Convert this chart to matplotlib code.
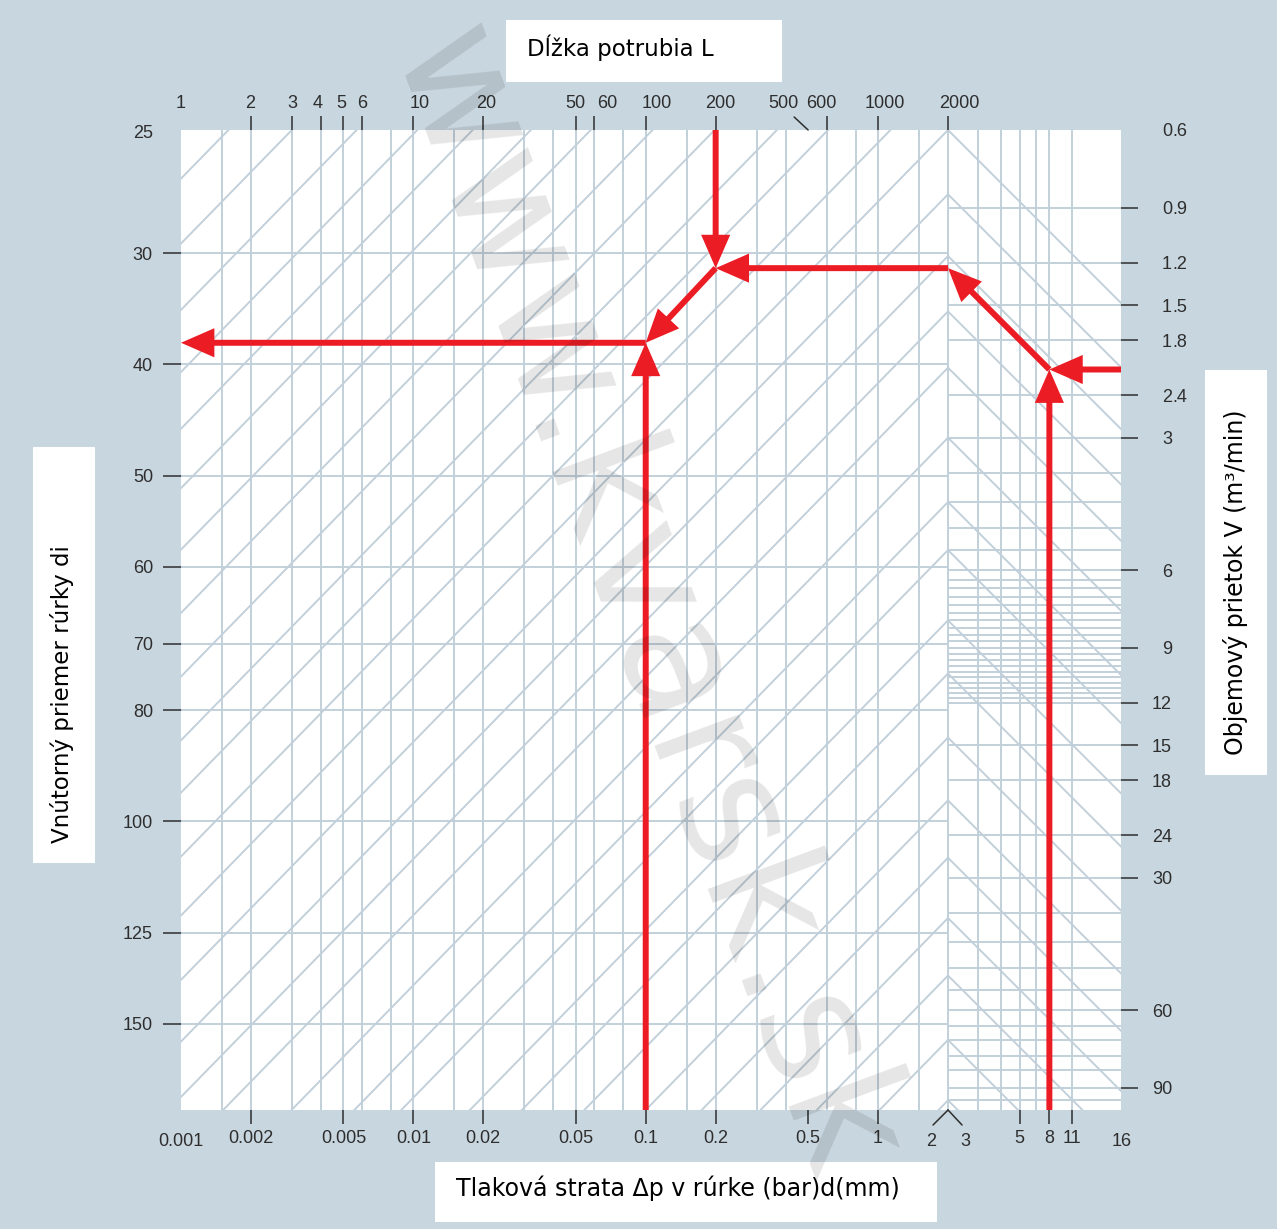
import numpy as np
import matplotlib
matplotlib.use("Agg")
import matplotlib.pyplot as plt
from matplotlib.patches import Rectangle, FancyArrowPatch
from matplotlib.ticker import NullLocator

# ---------------- data ----------------
# bottom scale, left part: pressure drop in the pipe (bar)
dp_ticks = [0.002, 0.005, 0.01, 0.02, 0.05, 0.1, 0.2, 0.5, 1]
dp_tick_labels = ["0.002", "0.005", "0.01", "0.02", "0.05", "0.1", "0.2", "0.5", "1"]
dp_min, dp_split = 0.001, 2
# top scale: pipe length L (m)
L_ticks = [2, 3, 4, 5, 6, 10, 20, 50, 60, 100, 200, 600, 1000, 2000]
L_tick_labels = ["2", "3", "4", "5", "6", "10", "20", "50", "60", "100", "200", "600", "1000", "2000"]
L_min, L_slanted = 1, 500
L_grid = [1.5, 2, 3, 4, 5, 6, 8, 10, 15, 20, 30, 40, 50, 60, 80, 100, 150, 200,
          300, 400, 600, 800, 1000, 1500, 2000]
# bottom scale, right part: pressure (bar)
p_split, p_max = 3, 16
p_ticks = [6, 8, 10]
p_tick_labels = ["5", "8", "11"]
p_grid = [4, 5, 6, 7, 8, 10]
# left scale: inner pipe diameter d (mm)
d_top = 25
d_ticks = [32, 40, 50, 60, 70, 80, 100, 125, 150]
d_tick_labels = ["30", "40", "50", "60", "70", "80", "100", "125", "150"]
# right scale: volume flow V (m3/min)
V_top, V_bottom = 0.6, 101
V_ticks = [0.9, 1.2, 1.5, 1.8, 2.4, 3, 6, 9, 12, 15, 18, 24, 30, 60, 90]
V_tick_labels = ["0.9", "1.2", "1.5", "1.8", "2.4", "3", "6", "9", "12", "15",
                 "18", "24", "30", "60", "90"]
V_grid = [0.9, 1.2, 1.5, 1.8, 2.4, 3, 3.6, 4.2, 4.8, 5.4, 6, 6.3, 6.6, 6.9, 7.2,
          7.5, 7.8, 8.1, 8.4, 8.7, 9, 9.3, 9.6, 9.9, 10.2, 10.5, 10.8, 11.1, 11.4,
          11.7, 12, 15, 18, 24, 30, 36, 42, 48, 54, 60, 65, 70, 76, 82, 90, 96]
# guide lines: flow where each chevron meets the boundary, and lengths where
# the remaining guide lines leave the top edge
apex_V = [0.6, 0.84, 1.16, 1.55, 2.08, 3.0, 4.2, 5.4, 7.8, 10.3, 14.4, 20, 27,
          37, 50, 70, 96]
top_guide_L = [1130, 609, 367, 198, 107, 58, 32, 18, 10.4, 5.7, 3.0, 1.6]
# worked example shown by the red arrows
ex_V, ex_p, ex_L, ex_dp, ex_d = 2.1, 8, 200, 0.1, 38.3
watermark = "www.kvarsk.sk"

# ---------------- scale helpers ----------------
FLOW_EXP = 1 / 1.85
P_STRETCH = 1.024
D_EXP = 2.609


def p_to_x(p):
    return dp_split * (np.asarray(p, float) / p_split) ** P_STRETCH


def d_to_V(d):
    return V_top * (np.asarray(d, float) / d_top) ** D_EXP


def V_to_d(V):
    return d_top * (np.asarray(V, float) / V_top) ** (1 / D_EXP)


# ---------------- style ----------------
BG = "#c8d6df"
GRID = "#c0cfd9"
RED = "#ec1c24"
TXT = "#2e2e2e"
TICK_FONT = ["Liberation Sans", "DejaVu Sans"]
TICK_FS = 13
TITLE_FONT = ["DejaVu Sans"]

W, H, DPI = 1277, 1229, 100
fig = plt.figure(figsize=(W / DPI, H / DPI), dpi=DPI, facecolor=BG)
ax = fig.add_axes([181 / W, 1 - 1110 / H, 940 / W, 980 / H])
ax.set_facecolor("white")
ax.set_xscale("log")
ax.set_yscale("log")
x_right = float(p_to_x(p_max))
ax.set_xlim(dp_min, x_right)
ax.set_ylim(V_bottom, V_top)
for s in ax.spines.values():
    s.set_visible(False)

glw = 1.35
# vertical grid
ax.vlines(np.array(L_grid) / 1000.0, V_top, V_bottom, color=GRID, lw=glw, zorder=1)
ax.vlines(p_to_x(p_grid), V_top, V_bottom, color=GRID, lw=glw, zorder=1)
# horizontal grid
ax.hlines(d_to_V(d_ticks), dp_min, dp_split, color=GRID, lw=glw, zorder=1)
ax.hlines(V_grid, dp_split, x_right, color=GRID, lw=glw, zorder=1)
# chevron guide lines
for Va in apex_V:
    xs = np.array([dp_min, dp_split])
    ax.plot(xs, Va * (dp_split / xs) ** FLOW_EXP, color=GRID, lw=glw, zorder=1)
    ps = np.array([p_split, p_max], float)
    ax.plot(p_to_x(ps), Va * (ps / p_split) ** FLOW_EXP, color=GRID, lw=glw, zorder=1)
for Lt in top_guide_L:
    dpt = Lt / 1000.0
    xs = np.array([dp_min, dpt])
    ax.plot(xs, V_top * (dpt / xs) ** FLOW_EXP, color=GRID, lw=glw, zorder=1)

# ---------------- ticks ----------------
ax.xaxis.set_minor_locator(NullLocator())
ax.yaxis.set_minor_locator(NullLocator())
ax.set_xticks(list(dp_ticks) + list(p_to_x(p_ticks)),
              labels=dp_tick_labels + p_tick_labels)
ax.tick_params(axis="x", which="major", direction="out", length=10, width=1.1,
               color=TXT, pad=4.5, labelsize=TICK_FS, labelcolor=TXT)
for lab in ax.get_xticklabels():
    lab.set_family(TICK_FONT)

ax.yaxis.tick_right()
ax.set_yticks(V_ticks, labels=[""] * len(V_ticks))
ax.tick_params(axis="y", which="major", direction="out", length=12.2, width=1.1,
               color=TXT, right=True, left=False)

top = ax.secondary_xaxis("top", functions=(lambda x: x * 1000.0, lambda L: L / 1000.0))
top.set_xticks(L_ticks, labels=[""] * len(L_ticks))
top.xaxis.set_minor_locator(NullLocator())
top.tick_params(axis="x", which="major", direction="out", length=10, width=1.1,
                color=TXT)
for s in top.spines.values():
    s.set_visible(False)

left = ax.secondary_yaxis("left", functions=(V_to_d, d_to_V))
left.set_yticks(d_ticks, labels=d_tick_labels)
left.yaxis.set_minor_locator(NullLocator())
left.tick_params(axis="y", which="major", direction="out", length=13, width=1.1,
                 color=TXT, pad=7.2, labelsize=TICK_FS, labelcolor=TXT)
for lab in left.get_yticklabels():
    lab.set_family(TICK_FONT)
for s in left.spines.values():
    s.set_visible(False)


def put(s, xy, coords, dx, dy, ha, va="baseline"):
    ax.annotate(s, xy=xy, xycoords=coords, xytext=(dx, dy), textcoords="offset pixels",
                ha=ha, va=va, fontsize=TICK_FS, color=TXT, family=TICK_FONT,
                annotation_clip=False)


XB = ("data", "axes fraction")
YB = ("axes fraction", "data")
# top labels (a few are set slightly off their tick, as in the original)
top_nudge = {"2": -1, "4": -3, "5": -2, "10": 6, "20": 3, "60": 13, "100": 11,
             "200": 5, "600": -5, "1000": 7, "2000": 11}
for L, lab in zip(L_ticks, L_tick_labels):
    put(lab, (L / 1000.0, 1), XB, top_nudge.get(lab, 0), 22.5, "center")
# right labels, aligned on the decimal point
for v, lab in zip([V_top] + V_ticks, [f"{V_top:g}"] + V_tick_labels):
    ip, dot, fp = lab.partition(".")
    put(ip, (1, v), YB, 51, -6.5, "right")
    if dot:
        put("." + fp, (1, v), YB, 51, -6.5, "left")
# edge labels without tick marks
put(f"{d_top:g}", (0, V_top), YB, -28, -8.5, "right")
put(f"{dp_min:g}", (dp_min, 0), XB, 0, -36.5, "center")
put(f"{p_max:g}", (x_right, 0), XB, 1, -36.5, "center")
put(f"{L_min:g}", (L_min / 1000.0, 1), XB, 0, 22.5, "center")
# the two scales meeting at the boundary, with the chevron
put(f"{dp_split:g}", (dp_split, 0), XB, -17, -36.5, "center")
put(f"{p_split:g}", (dp_split, 0), XB, 17, -36.5, "center")
for dx in (-15, 14):
    ax.annotate("", xy=(dp_split, 0), xycoords=XB, xytext=(dx, -15),
                textcoords="offset pixels", annotation_clip=False,
                arrowprops=dict(arrowstyle="-", color=TXT, lw=1.1, shrinkA=0, shrinkB=0))
# 500 with slanted tick
put(f"{L_slanted:g}", (L_slanted / 1000.0, 1), XB, -25, 22.5, "center")
ax.annotate("", xy=(L_slanted / 1000.0, 1), xycoords=XB, xytext=(-14, 13),
            textcoords="offset pixels", annotation_clip=False,
            arrowprops=dict(arrowstyle="-", color=TXT, lw=1.1, shrinkA=0, shrinkB=0))

# ---------------- worked example arrows ----------------
V_eq = ex_V * (p_split / ex_p) ** FLOW_EXP
x_L = ex_L / 1000.0
x_p = float(p_to_x(ex_p))
V_d = float(d_to_V(ex_d))
segments = [
    ((x_L, V_top), (x_L, V_eq)),
    ((dp_split, V_eq), (x_L, V_eq)),
    ((x_L, V_eq), (ex_dp, V_d)),
    ((ex_dp, V_d), (dp_min, V_d)),
    ((ex_dp, V_bottom), (ex_dp, V_d)),
    ((x_p, ex_V), (dp_split, V_eq)),
    ((x_p, V_bottom), (x_p, ex_V)),
    ((x_right, ex_V), (x_p, ex_V)),
]
for a, b in segments:
    arr = FancyArrowPatch(a, b, arrowstyle="-|>,head_length=16.5,head_width=7.2",
                          mutation_scale=1, color=RED, lw=4.3, shrinkA=0, shrinkB=0,
                          capstyle="butt", joinstyle="miter", zorder=5, clip_on=False)
    ax.add_patch(arr)

# ---------------- axis titles in white boxes ----------------
def box(x0, y0, x1, y1):
    fig.add_artist(Rectangle((x0 / W, 1 - y1 / H), (x1 - x0) / W, (y1 - y0) / H,
                             transform=fig.transFigure, facecolor="white",
                             edgecolor="none", zorder=0))


box(506, 20, 782, 82)
fig.text(527 / W, 1 - 48 / H, "Dĺžka potrubia L", ha="left", va="center",
         fontsize=16.5, family=TITLE_FONT, color="black")
box(435, 1162, 937, 1222)
fig.text(456 / W, 1 - 1188 / H, "Tlaková strata Δp v rúrke (bar)d(mm)", ha="left",
         va="center", fontsize=17.1, family=TITLE_FONT, color="black")
box(33, 447, 95, 863)
fig.text(62 / W, 1 - 843 / H, "Vnútorný priemer rúrky di", ha="center", va="bottom",
         rotation=90, fontsize=16.5, family=TITLE_FONT, color="black")
box(1205, 370, 1267, 775)
fig.text(1236 / W, 1 - 755 / H, "Objemový prietok V (m³/min)", ha="center",
         va="bottom", rotation=90, fontsize=17, family=TITLE_FONT, color="black")

# faint diagonal watermark, kept fully inside the picture
fig.text(600 / W, 1 - 620 / H, watermark, rotation=-69.6, rotation_mode="anchor",
         ha="center", va="baseline", fontsize=118, family=TITLE_FONT,
         color="black", alpha=0.10, zorder=10)

fig.savefig("out.png", dpi=DPI, facecolor=BG)
